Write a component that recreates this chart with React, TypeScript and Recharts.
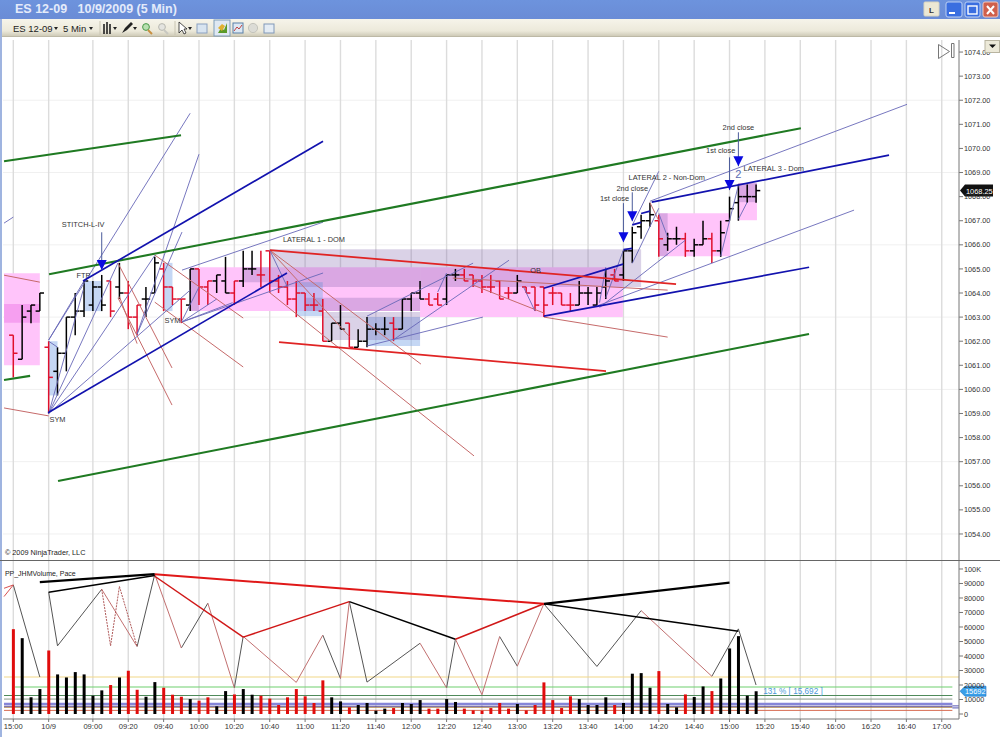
import { Bar, CartesianGrid, Cell, ComposedChart, Line, ReferenceArea, ReferenceDot, ReferenceLine, XAxis, YAxis } from 'recharts'

const FONT = '"Liberation Sans", Arial, sans-serif'

// bar index 0 = 15:00 on the prior session, one step = 5 minutes
const timeTicks = [0, 4, 9, 13, 17, 21, 25, 29, 33, 37, 41, 45, 49, 53, 57, 61, 65, 69, 73, 77, 81, 85, 89, 93, 97, 101, 105]
const timeLabels = ['15:00', '10/9', '09:00', '09:20', '09:40', '10:00', '10:20', '10:40', '11:00', '11:20', '11:40', '12:00', '12:20', '12:40', '13:00', '13:20', '13:40', '14:00', '14:20', '14:40', '15:00', '15:20', '15:40', '16:00', '16:20', '16:40', '17:00']
const priceTicks = [1054, 1055, 1056, 1057, 1058, 1059, 1060, 1061, 1062, 1063, 1064, 1065, 1066, 1067, 1068, 1069, 1070, 1071, 1072, 1073, 1074]
const priceGrid = [1054, 1057, 1060, 1063, 1066, 1069, 1072]
const volumeTicks = [0, 10000, 20000, 30000, 40000, 50000, 60000, 70000, 80000, 90000, 100000]

const highs = [1062.25, 1063.5, 1063.5, 1064, 1062, 1061.75, 1063, 1064, 1064.5, 1064.5, 1064.75, 1064.5, 1065.25, 1064.5, 1063.5, 1064.25, 1065.5, 1065.25, 1064.25, 1063.75, 1065, 1065, 1064.5, 1064.75, 1065.5, 1064.5, 1065.75, 1065.75, 1065.75, 1065.75, 1064.75, 1064.5, 1064.5, 1064, 1064, 1063.75, 1062.75, 1063.5, 1062.75, 1062.5, 1063, 1062.75, 1063, 1063, 1063.75, 1064, 1064.5, 1064, 1064, 1064.75, 1065, 1065, 1064.75, 1064.75, 1064.75, 1064.5, 1064.25, 1064.75, 1064.25, 1064.25, 1064.25, 1064.25, 1064, 1064, 1064.5, 1064.25, 1064.25, 1065, 1065, 1065.75, 1066.75, 1067.25, 1067.75, 1067.25, 1066.5, 1066.75, 1066.5, 1066.25, 1067, 1066.5, 1067, 1068, 1068.5, 1068.5, 1068.5]
const lows = [1060.5, 1061.25, 1062.75, 1063.25, 1059, 1059.75, 1060.75, 1062.25, 1063, 1063.25, 1063.25, 1063, 1063.75, 1062.5, 1062.25, 1063, 1064, 1063.25, 1063.5, 1062.75, 1063.25, 1063.5, 1063.5, 1064, 1064, 1063.5, 1064.25, 1064.75, 1064.25, 1064, 1064, 1063.5, 1063, 1063.25, 1063.25, 1062, 1062, 1062.5, 1061.75, 1061.75, 1061.75, 1062.25, 1062.25, 1062, 1062.5, 1063.25, 1063.75, 1063.5, 1063.5, 1063.5, 1064.5, 1064.5, 1064.25, 1064, 1064, 1063.75, 1063.75, 1064, 1064, 1063.25, 1063, 1063.5, 1063.5, 1063.25, 1063.5, 1063.5, 1063.5, 1063.75, 1064.5, 1064.5, 1065.25, 1066.25, 1066.75, 1065.5, 1065.75, 1066, 1065.5, 1065.5, 1066, 1065.25, 1065.5, 1067, 1067, 1067.75, 1067.75]
const opens = [1062.25, 1061.25, 1063.25, 1063.25, 1061.75, 1060.75, 1061.5, 1063, 1063.25, 1063.5, 1064.25, 1064.5, 1064.25, 1064, 1063, 1063.75, 1064, 1065, 1064.25, 1063.75, 1063.5, 1065, 1064.25, 1064.5, 1064.5, 1064, 1064.5, 1065, 1064.75, 1065.75, 1064.5, 1064.25, 1063.75, 1064, 1063.5, 1063.25, 1062, 1062.75, 1062.75, 1061.75, 1062, 1062.5, 1062.5, 1062.75, 1062.5, 1063.75, 1064, 1063.75, 1063.75, 1063.75, 1064.75, 1064.75, 1064.75, 1064.5, 1064.25, 1064.5, 1064, 1064, 1064.25, 1064.25, 1064.25, 1064, 1064, 1063.5, 1063.5, 1064, 1063.5, 1064.25, 1064.75, 1064.75, 1065.75, 1066.75, 1067, 1067, 1066, 1066.25, 1066.25, 1065.75, 1066, 1066.25, 1065.75, 1067, 1067.75, 1068, 1068]
const closes = [1061.5, 1063, 1063.5, 1064, 1060.5, 1061.5, 1063, 1063.25, 1064.5, 1064.25, 1063.5, 1063.25, 1064, 1063, 1063.5, 1063.75, 1065.25, 1064.25, 1063.75, 1063.75, 1065, 1064.25, 1064.5, 1064.75, 1064, 1064.5, 1065, 1065, 1064.75, 1064.5, 1064.25, 1063.75, 1064, 1063.5, 1063.5, 1062, 1062.75, 1062.5, 1061.75, 1062, 1062.5, 1062.5, 1062.5, 1062.5, 1063.75, 1064, 1063.75, 1063.5, 1063.5, 1064.75, 1064.75, 1064.5, 1064.5, 1064.25, 1064.25, 1063.75, 1064, 1064.5, 1064, 1063.5, 1063.5, 1064, 1063.5, 1063.5, 1064, 1064, 1064, 1064.5, 1064.5, 1065.75, 1066.5, 1067, 1067.25, 1066.25, 1066.25, 1066.25, 1065.75, 1066, 1066.25, 1065.75, 1066.5, 1067.5, 1068, 1068, 1068.25]
const volumes = [58500, 52300, 11500, 17200, 43800, 27300, 25200, 28900, 27300, 12600, 16300, 20000, 25200, 29800, 16700, 11900, 22000, 18100, 13300, 11900, 10300, 9200, 11500, 5300, 15800, 13500, 17200, 13300, 12600, 10600, 6200, 11500, 17200, 12200, 7600, 23200, 11500, 8700, 4600, 6200, 7600, 2300, 3700, 4100, 7600, 6900, 9600, 3700, 3700, 10300, 8300, 3700, 2500, 2300, 4100, 7600, 3700, 6900, 2500, 6200, 21800, 9600, 4100, 12200, 10300, 6200, 6200, 11500, 6200, 7600, 27800, 28200, 18100, 29600, 6900, 4600, 13500, 11700, 19000, 15800, 24500, 45200, 53700, 12600, 15692]
const redBars = [0, 4, 11, 13, 14, 17, 18, 19, 21, 22, 25, 28, 29, 30, 31, 32, 33, 34, 35, 38, 43, 47, 48, 51, 52, 53, 54, 55, 56, 58, 59, 60, 61, 62, 63, 68, 73, 76, 79]

// zones: [from bar, to bar, price, price]
const pinkZones = [[-1.05, 3, 1064.82, 1061], [19.97, 46, 1065.07, 1063.25], [46, 68.94, 1065.07, 1063], [73.03, 81.05, 1067.31, 1065.53], [81.96, 84.1, 1068.56, 1067.02]]
const magentaZones = [[-1.05, 3, 1063.54, 1062.77]]
const lavenderZones = [[29, 71, 1065.82, 1064.25], [26, 29, 1065.07, 1064.45], [19.97, 21, 1065, 1063.25], [33, 46, 1063.8, 1063.25], [35, 46, 1063.21, 1062.05], [73.03, 74, 1067.31, 1065.53], [81.96, 84.1, 1068.56, 1067.77]]
const blueZones = [[4, 5, 1062, 1059.75], [8, 10, 1064.5, 1063.25], [17, 18, 1065.25, 1063.25], [32, 35, 1064.45, 1063.04], [40, 46, 1063, 1061.8]]

// trend lines: [bar, price, bar, price]
const greenLines = [[-1.05, 1069.47, 18.97, 1070.55], [4.04, 1064.78, 89.07, 1070.84], [-1.05, 1060.39, 1.9, 1060.56], [5.06, 1056.2, 89.99, 1062.3]]
const blueHeavy = [[3.93, 1059.03, 30.95, 1064.83], [7.88, 1064.5, 35.03, 1070.3], [60, 1063.04, 90, 1065.07], [60, 1064.2, 68.96, 1065.2], [72.2, 1067.77, 99.04, 1069.72], [69, 1065.8, 70, 1065.85], [70, 1066.83, 71, 1066.93], [71, 1067.3, 72, 1067.4]]
const blueThin = [
  [4, 1062.05, 20, 1071.46], [14, 1062.3, 21, 1069.76], [14, 1062.3, 19.08, 1066.53], [4, 1059, 11.84, 1065.25], [4, 1059, 16.02, 1065.57],
  [4, 1059, 20, 1064.12], [4, 1059, 7.9, 1064.12], [4, 1062, 5, 1061.75], [4, 1062.05, 8, 1064.5], [19.08, 1064.95, 35.03, 1066.94], [19.08, 1062.8, 35.03, 1064.83],
  [19.08, 1062.8, 23, 1063.75], [19.08, 1062.85, 21, 1064.25], [19.08, 1062.8, 24.8, 1063.6], [40, 1061.8, 53.1, 1063], [40, 1063.04, 52, 1065.24],
  [42.95, 1062.05, 56.06, 1065.36], [48, 1064.04, 49, 1064.83], [57.7, 1064.25, 59, 1063.25], [72, 1067.81, 101.07, 1071.83], [66.01, 1063.46, 95.08, 1067.44],
  [70, 1065.23, 73, 1067.52], [70, 1066.81, 73, 1069.05], [66.3, 1063.4, 76, 1066.19], [80, 1065.53, 82, 1068.47], [82, 1067.06, 83, 1067.77],
  [73, 1067.3, 74, 1066.32], [66.3, 1063.6, 67, 1065.07], [67, 1063.8, 69, 1065.78], [-1.05, 1066.9, 0, 1067.15], [29, 1065.78, 31, 1064.25],
]
const redHeavy = [[29.02, 1065.78, 74.95, 1064.37], [30.05, 1061.96, 67.03, 1060.76]]
const redThin = [
  [-1.05, 1059.23, 4, 1058.9], [-1.05, 1064.74, 3, 1064.45], [11.84, 1065.24, 17.95, 1060.89], [11.84, 1063.8, 17.95, 1059.35], [16.02, 1065.57, 26, 1062.96],
  [16, 1063.62, 26, 1060.93], [29, 1065.78, 46.1, 1061.05], [28.92, 1064.04, 52.1, 1057.24], [29, 1065.78, 38, 1062.2], [60, 1063, 74, 1062.17],
  [49.7, 1064.62, 74, 1064.12], [52, 1064.33, 60, 1063.17], [12, 1063.85, 14, 1061.9], [72, 1067.75, 73, 1067],
]

const annotations = [
  { bar: 7.9, price: 1066.86, text: 'STITCH-L-IV' }, { bar: 7.94, price: 1064.74, text: 'FTP' }, { bar: 5, price: 1058.77, text: 'SYM' },
  { bar: 18, price: 1062.88, text: 'SYM' }, { bar: 34, price: 1066.23, text: 'LATERAL 1 - DOM' }, { bar: 59.06, price: 1064.95, text: 'OB' },
  { bar: 68, price: 1067.93, text: '1st close' }, { bar: 70, price: 1068.35, text: '2nd close' }, { bar: 73.9, price: 1068.8, text: 'LATERAL 2 - Non-Dom' },
  { bar: 80, price: 1069.93, text: '1st close' }, { bar: 82, price: 1070.88, text: '2nd close' }, { bar: 86, price: 1069.18, text: 'LATERAL 3 - Dom' },
]
const arrows = [[10, 1066.52, 1064.95], [69, 1067.73, 1066.11], [70, 1068.18, 1066.98], [81, 1069.63, 1068.27], [82, 1070.67, 1069.26]]

// pace zigzag, volume panel
const paceBars = [4, 5, 10, 14, 16, 19, 22, 25, 26, 32, 35, 37, 38, 40, 46, 49, 50, 53, 55, 57, 60, 66, 71, 79, 82, 84]
const paceValues = [84000, 47000, 86000, 46500, 96300, 45500, 76400, 18000, 53500, 21800, 54400, 24500, 77500, 22000, 48800, 18000, 51600, 13300, 53400, 33000, 76000, 32800, 71300, 26000, 58700, 20000]
const paceRed = [false, false, true, false, true, false, true, false, true, true, false, true, false, false, true, false, true, true, false, true, false, false, true, false, false]
const paceExtra = [[0, 89000, 3, 25500]]
const paceRedExtra = [[-1.05, 86700, 0, 89000], [-1.05, 81000, 0, 89000]]
const paceDashed = [[10, 86000, 11, 47000], [11, 47000, 12, 88000], [12, 88000, 14, 46500]]
const swingBlack = [[4, 84000, 16, 95500], [38, 77500, 50, 51600], [60, 76000, 82, 57000]]
const swingBlackHeavy = [[3, 91000, 16, 96500], [60, 76000, 81, 90600]]
const swingRed = [[16, 95000, 26, 53000], [26, 53000, 38, 77500], [50, 51600, 60, 76000]]
const swingRedHeavy = [[16, 96300, 60, 76000]]
const volumeLevels = [
  { value: 25500, from: -1.05, to: 106.95, color: '#f2d888', w: 1.1 }, { value: 18600, from: 0.2, to: 106.2, color: '#6ed06e', w: 1.1 },
  { value: 12800, from: -1.05, to: 106.2, color: '#4f8a5a', w: 1.1 }, { value: 10300, from: -1.05, to: 106.2, color: '#8a9a8a', w: 1 },
  { value: 6900, from: -1.05, to: 106.2, color: '#8585d8', w: 2.5 }, { value: 5300, from: -1.05, to: 106.2, color: '#3a2a80', w: 0.8 },
  { value: 4500, from: -1.05, to: 106.2, color: '#b08a50', w: 0.8 }, { value: 2500, from: -1.05, to: 106.2, color: '#d86a50', w: 1 },
  { value: 5600, from: 106.2, to: 106.95, color: '#2a2aa0', w: 0.8 }, { value: 4200, from: 106.2, to: 106.95, color: '#2a2aa0', w: 0.8 },
]

const priceRows = highs.map((high, i) => ({ bar: i, range: [lows[i], high], open: opens[i], close: closes[i], high, low: lows[i], down: redBars.includes(i) }))
const volumeRows = volumes.map((volume, i) => ({ bar: i, volume }))

const X_DOMAIN: [number, number] = [-1.165, 106.95]
const RED = '#e0102c'

function OhlcShape(props: any) {
  const { x, y, width, height, payload } = props
  const cx = x + width / 2
  const top = Math.min(y, y + height)
  const span = Math.abs(height)
  const toY = (p: number) => top + ((payload.high - p) / (payload.high - payload.low)) * span
  const color = payload.down ? RED : '#000'
  return (
    <g stroke={color} strokeWidth={1.5} fill="none">
      <line x1={cx} x2={cx} y1={top} y2={top + span} />
      <line x1={cx - 4.2} x2={cx} y1={toY(payload.open)} y2={toY(payload.open)} />
      <line x1={cx} x2={cx + 4.2} y1={toY(payload.close)} y2={toY(payload.close)} />
    </g>
  )
}

const seg = (s: number[]) => [{ x: s[0], y: s[1] }, { x: s[2], y: s[3] }] as any

function trend(list: number[][], name: string, color: string, width: number) {
  return list.map((s, i) => (
    <ReferenceLine key={name + i} segment={seg(s)} stroke={color} strokeWidth={width} ifOverflow="visible" />
  ))
}

function zones(list: number[][], name: string, fill: string, opacity: number) {
  return list.map((z, i) => (
    <ReferenceArea key={name + i} x1={z[0]} x2={z[1]} y1={z[2]} y2={z[3]} fill={fill} fillOpacity={opacity} stroke="none" ifOverflow="visible" />
  ))
}

function legs(list: number[][], name: string, color: string, width: number, dash?: string) {
  return list.map((s, i) => (
    <Line key={name + i} data={[{ bar: s[0], v: s[1] }, { bar: s[2], v: s[3] }]} dataKey="v" type="linear" stroke={color} strokeWidth={width} strokeDasharray={dash} dot={false} activeDot={false} legendType="none" isAnimationActive={false} />
  ))
}

const paceDark = paceBars.slice(1).map((b, i) => [paceBars[i], paceValues[i], b, paceValues[i + 1]]).filter((_, i) => !paceRed[i])
const paceLight = paceBars.slice(1).map((b, i) => [paceBars[i], paceValues[i], b, paceValues[i + 1]]).filter((_, i) => paceRed[i])

function WindowChrome() {
  return (
    <>
      <div style={{ position: 'absolute', left: 0, top: 0, width: 1000, height: 19, background: 'linear-gradient(#6d93dd, #6a8cd6)' }} />
      <div style={{ position: 'absolute', left: 15, top: 2, color: '#e4ebfa', font: `bold 12.5px ${FONT}`, whiteSpace: 'pre' }}>ES 12-09   10/9/2009 (5 Min)</div>
      <div style={{ position: 'absolute', left: 0, top: 19, width: 1000, height: 18, background: 'linear-gradient(#f6f4ea, #ece9da 70%, #cfcbb8)', borderBottom: '1px solid #bdb9a6', boxSizing: 'border-box' }} />
      <div style={{ position: 'absolute', left: 0, top: 19, width: 2, height: 718, background: '#9fb4e0' }} />
      <svg width={1000} height={37} style={{ position: 'absolute', left: 0, top: 0 }}>
        <text x={13} y={32} fontFamily={FONT} fontSize={9.5} fill="#222">ES 12-09</text>
        <text x={63} y={32} fontFamily={FONT} fontSize={9.5} fill="#222">5 Min</text>
        {[56, 91, 115, 135, 190].map((x) => <path key={x} d={`M${x - 2} 27h4l-2 3z`} fill="#222" />)}
        <path d="M100 21v14M175 21v14" stroke="#c8c4b2" />
        <path d="M104 24v10M107 22v12M110 24v10" stroke="#222" strokeWidth={1.6} />
        <path d="M122 33l3-5 6-6 2 2-6 6z" fill="#222" />
        <circle cx={146} cy={27} r={3.4} fill="#b8e0b0" stroke="#4a9a4a" />
        <path d="M148 30l4 4" stroke="#c89040" strokeWidth={2} />
        <circle cx={162} cy={27} r={3.4} fill="#e4e4e0" stroke="#b8b8b0" />
        <path d="M164 30l4 4" stroke="#c8c8c0" strokeWidth={2} />
        <path d="M179 22v11l3-3 2 4 2-1-2-4h3z" fill="#fff" stroke="#222" strokeWidth={0.8} />
        <rect x={197} y={24} width={10} height={9} fill="#d8e4f0" stroke="#8aa0c0" />
        <rect x={214} y={20} width={16} height={16} fill="#dfe8f2" stroke="#7f9db9" />
        <path d="M218 33l3-5 3 2 3-7v10z" fill="#5a9a2a" />
        <path d="M218 28l4-4 3 2-3 5z" fill="#e0b030" />
        <rect x={233} y={23} width={10} height={10} fill="#dce8f4" stroke="#5a80a8" />
        <path d="M234 31l3-4 2 2 3-4" fill="none" stroke="#c04040" />
        <circle cx={253} cy={28} r={4.6} fill="#dcdcd6" stroke="#c4c4bc" />
        <rect x={264} y={24} width={10} height={9} fill="#e4ecf4" stroke="#8098b8" />
        <rect x={924} y={2} width={15} height={14} rx={1} fill="#ece8d4" stroke="#d8d4c0" />
        <text x={931.5} y={13} fontFamily={FONT} fontSize={8} fontWeight="bold" textAnchor="middle" fill="#333">L</text>
        <rect x={946} y={2} width={16} height={15} rx={2} fill="#3a6ee0" stroke="#bcd0f4" />
        <path d="M949 13h6" stroke="#fff" strokeWidth={2} />
        <rect x={965} y={2} width={15} height={15} rx={2} fill="#3a6ee0" stroke="#bcd0f4" />
        <rect x={968} y={6} width={9} height={8} fill="none" stroke="#fff" strokeWidth={1.4} />
        <rect x={983} y={2} width={15} height={15} rx={2} fill="#d0604c" stroke="#f0c8c0" />
        <path d="M987 6l7 8M994 6l-7 8" stroke="#fff" strokeWidth={2} />
      </svg>
      <svg width={70} height={24} style={{ position: 'absolute', left: 930, top: 40, zIndex: 3 }}>
        <path d="M8.5 4.5l11 7-11 7z M21.5 3.5h2.5v14h-2.5z" fill="none" stroke="#777" />
        <rect x={55} y={0.5} width={14.5} height={12} fill="#ece9d8" stroke="#b8b4a0" />
        <path d="M59 4.5h7l-3.5 3.5z" fill="#111" />
      </svg>
    </>
  )
}

export default function App() {
  return (
    <div style={{ position: 'absolute', left: 0, top: 0, width: 1000, height: 737, background: '#fff', overflow: 'hidden' }}>
      <div style={{ position: 'absolute', left: 0, top: 40 }}>
        <ComposedChart width={1000} height={520} data={priceRows} margin={{ top: 0, right: 0, bottom: 0, left: 3 }}>
          <CartesianGrid vertical={false} horizontalValues={priceGrid} stroke="#f0f0f0" />
          <CartesianGrid horizontal={false} verticalValues={timeTicks} stroke="#dcdcdc" strokeWidth={1.4} />
          <XAxis dataKey="bar" type="number" scale="linear" domain={X_DOMAIN} allowDataOverflow ticks={timeTicks} hide />
          <YAxis orientation="right" width={41} domain={[1052.92, 1074.5]} allowDataOverflow ticks={priceTicks} interval={0} tickFormatter={(v: number) => v.toFixed(2)} tick={{ fontSize: 7.3, fontFamily: FONT, fill: '#333' }} tickSize={4} tickMargin={1} stroke="#777" />
          {zones(pinkZones, 'pink', '#ffc4fa', 1)}
          {zones(magentaZones, 'magenta', '#e040d8', 0.28)}
          {zones(blueZones, 'blue', '#8cb0ea', 0.5)}
          {zones(lavenderZones, 'lav', '#7858a8', 0.27)}
          <Bar dataKey="range" barSize={8.84} shape={OhlcShape} isAnimationActive={false} />
          {trend(redThin, 'rt', '#c66a6a', 1)}
          {trend(blueThin, 'bt', '#6868b8', 0.9)}
          {trend(greenLines, 'g', '#1f7a22', 2.1)}
          {trend(blueHeavy, 'bh', '#1212ae', 1.7)}
          {trend(redHeavy, 'rh', '#e02424', 1.8)}
          {arrows.map((a, i) => <ReferenceLine key={'al' + i} segment={[{ x: a[0], y: a[1] }, { x: a[0], y: a[2] }]} stroke="#4a5a9a" strokeWidth={1} ifOverflow="visible" />)}
          {arrows.map((a, i) => (
            <ReferenceDot key={'ah' + i} x={a[0]} y={a[2]} ifOverflow="visible" shape={(p: any) => <path d={`M${p.cx - 5} ${p.cy - 10}h10l-5 10z`} fill="#0a0ae0" />} />
          ))}
          {annotations.map((a, i) => (
            <ReferenceDot key={'t' + i} x={a.bar} y={a.price} ifOverflow="visible" shape={(p: any) => <text x={p.cx} y={p.cy + 3} textAnchor="middle" fontFamily={FONT} fontSize={7.4} fill="#333">{a.text}</text>} />
          ))}
          <ReferenceDot x={82} y={1068.93} ifOverflow="visible" shape={(p: any) => <text x={p.cx} y={p.cy + 4} textAnchor="middle" fontFamily={FONT} fontSize={11} fill="#5a6ab0">2</text>} />
          <ReferenceDot x={X_DOMAIN[1]} y={closes[closes.length - 1]} ifOverflow="visible" shape={(p: any) => (
            <g>
              <path d={`M${p.cx + 1} ${p.cy}l5 -6h28v12h-28z`} fill="#111" />
              <text x={p.cx + 7} y={p.cy + 3} fontFamily={FONT} fontSize={7.4} fill="#fff">1068.25</text>
            </g>
          )} />
          <ReferenceDot x={-0.95} y={1053.25} ifOverflow="visible" shape={(p: any) => <text x={p.cx} y={p.cy + 3} fontFamily={FONT} fontSize={7.3} fill="#222">© 2009 NinjaTrader, LLC</text>} />
        </ComposedChart>
      </div>
      <div style={{ position: 'absolute', left: 0, top: 560, width: 1000, height: 1, background: '#666', zIndex: 2 }} />
      <div style={{ position: 'absolute', left: 0, top: 561 }}>
        <ComposedChart width={1000} height={176} data={volumeRows} margin={{ top: 0, right: 0, bottom: 0, left: 3 }}>
          <CartesianGrid horizontal={false} verticalValues={timeTicks} stroke="#dcdcdc" strokeWidth={1.4} />
          <XAxis dataKey="bar" type="number" scale="linear" domain={X_DOMAIN} allowDataOverflow ticks={timeTicks} interval={0} height={18} tickFormatter={(v: number) => timeLabels[timeTicks.indexOf(v)]} tick={{ fontSize: 7.6, fontFamily: FONT, fill: '#333' }} tickSize={3} tickMargin={2} stroke="#777" />
          <YAxis orientation="right" width={41} domain={[-3448, 105517]} allowDataOverflow ticks={volumeTicks} interval={0} tickFormatter={(v: number) => (v === 100000 ? '100K' : String(v))} tick={{ fontSize: 7.3, fontFamily: FONT, fill: '#333' }} tickSize={4} tickMargin={1} stroke="#777" />
          {volumeLevels.map((l, i) => <ReferenceLine key={'lv' + i} segment={[{ x: l.from, y: l.value }, { x: l.to, y: l.value }]} stroke={l.color} strokeWidth={l.w} zIndex={50} />)}
          <Bar dataKey="volume" barSize={3} isAnimationActive={false}>
            {volumeRows.map((r) => <Cell key={r.bar} fill={redBars.includes(r.bar) ? '#e00c0c' : '#000'} />)}
          </Bar>
          {legs(paceDark, 'pd', '#555', 1)}
          {legs(paceExtra, 'px', '#555', 1)}
          {legs(paceLight, 'pl', '#c27070', 1)}
          {legs(paceRedExtra, 'pr', '#d85050', 1)}
          {legs(paceDashed, 'pdd', '#b05a5a', 1, '2 1')}
          {legs(swingBlack, 'sb', '#000', 1.5)}
          {legs(swingBlackHeavy, 'sbh', '#000', 2.2)}
          {legs(swingRed, 'sr', '#d01818', 1.5)}
          {legs(swingRedHeavy, 'srh', '#e01818', 2)}
          <ReferenceDot x={-0.95} y={97500} ifOverflow="visible" shape={(p: any) => <text x={p.cx} y={p.cy + 3} fontFamily={FONT} fontSize={7} fill="#222">PP_JHMVolume, Pace</text>} />
          <ReferenceDot x={84.8} y={volumes[84]} ifOverflow="visible" shape={(p: any) => <text x={p.cx} y={p.cy + 3} fontFamily={FONT} fontSize={8.2} fill="#4a9ad8">131 % [ 15,692 ]</text>} />
          <ReferenceDot x={X_DOMAIN[1]} y={volumes[84]} ifOverflow="visible" shape={(p: any) => (
            <g>
              <path d={`M${p.cx + 1} ${p.cy}l5 -5h21v10h-21z`} fill="#3a9ee8" stroke="#1a70c0" strokeWidth={0.6} />
              <text x={p.cx + 6} y={p.cy + 3} fontFamily={FONT} fontSize={7.4} fill="#fff">15692</text>
            </g>
          )} />
        </ComposedChart>
      </div>
      <WindowChrome />
    </div>
  )
}
